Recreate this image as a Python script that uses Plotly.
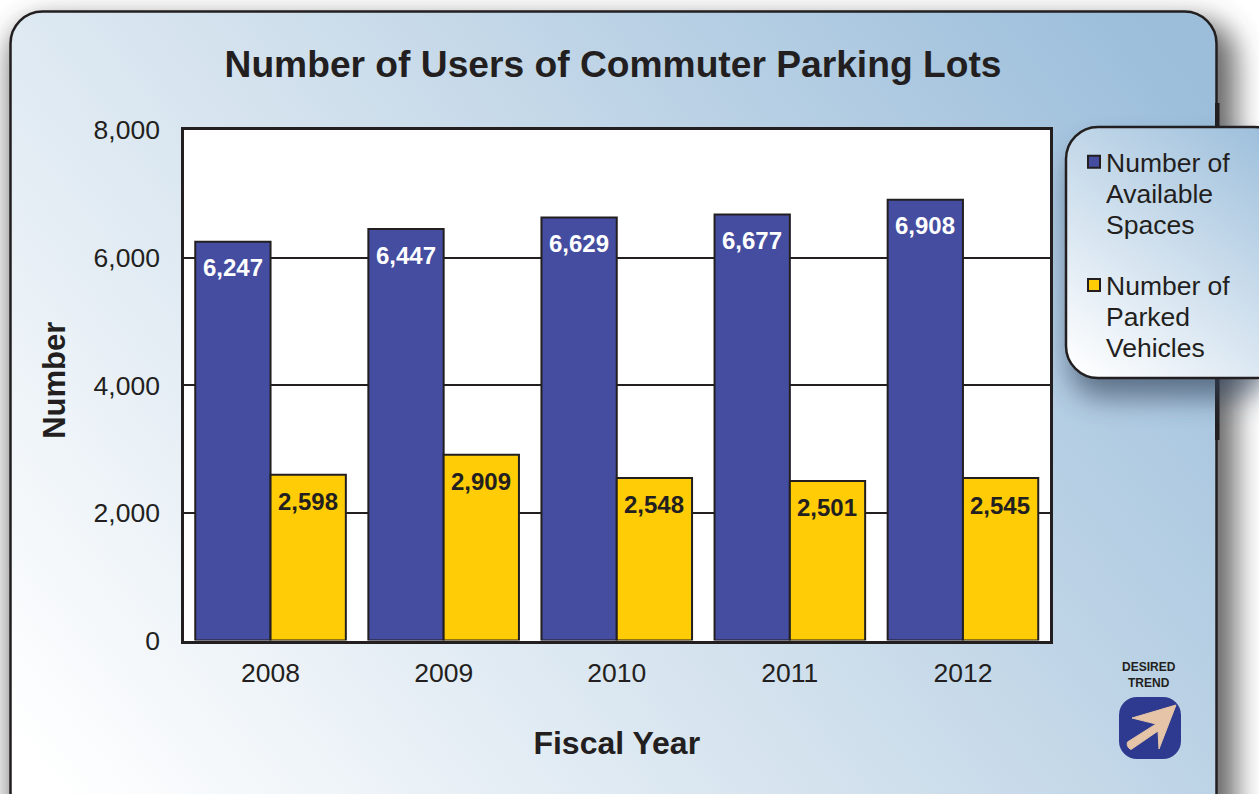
import base64
import plotly.graph_objects as go

years = ["2008", "2009", "2010", "2011", "2012"]
spaces = [6247, 6447, 6629, 6677, 6908]
parked = [2598, 2909, 2548, 2501, 2545]
W, H = 1259, 794
FONT = "Liberation Sans, Arial, sans-serif"
INK = "#231f20"

svg = f'''<svg xmlns="http://www.w3.org/2000/svg" width="{W}" height="{H}" viewBox="0 0 {W} {H}">
<defs>
<linearGradient id="p" gradientUnits="userSpaceOnUse" x1="60" y1="800" x2="1090" y2="-40">
<stop offset="0" stop-color="#ffffff"/><stop offset="0.5" stop-color="#cfdfec"/><stop offset="1" stop-color="#9cbedb"/></linearGradient>
<linearGradient id="l" gradientUnits="userSpaceOnUse" x1="1075" y1="375" x2="1255" y2="130">
<stop offset="0" stop-color="#ffffff"/><stop offset="1" stop-color="#9fc0dc"/></linearGradient>
<filter id="s" x="-20%" y="-20%" width="140%" height="140%"><feGaussianBlur stdDeviation="14"/></filter>
</defs>
<rect width="{W}" height="{H}" fill="#ffffff"/>
<rect x="10" y="20" width="1226" height="840" rx="38" fill="#444" opacity="0.8" filter="url(#s)"/>
<rect x="10.5" y="11.5" width="1206" height="830" rx="32" fill="url(#p)" stroke="{INK}" stroke-width="2.5"/>
<rect x="1215" y="103" width="4.5" height="337" fill="{INK}"/>
<rect x="1070" y="146" width="200" height="252" rx="32" fill="#33435a" opacity="0.65" filter="url(#s)"/>
<rect x="1066" y="127" width="220" height="251" rx="32" fill="url(#l)" stroke="{INK}" stroke-width="2.5"/>
<rect x="183" y="129" width="867" height="512" fill="#ffffff"/>
<rect x="1119" y="697" width="62" height="62" rx="18" fill="#2e3a8f"/>
<path d="M1176 705 L1132 718 L1156 724 L1127.5 742 Q1126 747 1131 749.5 L1158 731 L1159 749 Z" fill="#e5c4a8" stroke="#e5c4a8" stroke-width="1" stroke-linejoin="round"/>
</svg>'''
bg = "data:image/svg+xml;base64," + base64.b64encode(svg.encode()).decode()

fig = go.Figure()
fig.add_bar(x=years, y=spaces, name="Number of<br>Available<br>Spaces", legendgroup="a",
            marker=dict(color="#444da0", line=dict(color=INK, width=2)))
fig.add_bar(x=years, y=parked, name="Number of<br>Parked<br>Vehicles", legendgroup="b",
            marker=dict(color="#ffcc05", line=dict(color=INK, width=2)))

for i, y in enumerate(years):
    fig.add_annotation(x=i, y=spaces[i], text=f"<b>{spaces[i]:,}</b>", showarrow=False, xshift=-38, yshift=-26,
                       font=dict(family=FONT, size=24, color="#ffffff"))
    fig.add_annotation(x=i, y=parked[i], text=f"<b>{parked[i]:,}</b>", showarrow=False, xshift=37, yshift=-27,
                       font=dict(family=FONT, size=24, color=INK))

fig.add_annotation(xref="paper", yref="paper", x=1149/W, y=1-675/H, xanchor="center", yanchor="middle",
                   text="<b>DESIRED<br>TREND</b>", showarrow=False,
                   font=dict(family=FONT, size=12, color=INK))

fig.update_layout(
    width=W, height=H, margin=dict(l=0, r=0, t=0, b=0, pad=0), autosize=False,
    paper_bgcolor="rgba(0,0,0,0)", plot_bgcolor="#ffffff",
    barmode="group", bargap=0.13, bargroupgap=0,
    font=dict(family=FONT, size=26, color=INK),
    title=dict(text="<b>Number of Users of Commuter Parking Lots</b>", font=dict(family=FONT, size=37.2, color=INK),
               automargin=False, x=613/W, xanchor="center", y=1-64/H, yanchor="middle"),
    images=[dict(source=bg, xref="paper", yref="paper", x=0, y=1, sizex=1, sizey=1, sizing="stretch",
                 xanchor="left", yanchor="top", layer="below")],
    legend=dict(x=1066/W, y=1-138/H, xanchor="left", yanchor="top", bgcolor="rgba(0,0,0,0)", valign="top",
                font=dict(family=FONT, size=26.5, color=INK), tracegroupgap=17, traceorder="grouped",
                itemclick=False, itemdoubleclick=False),
    xaxis=dict(domain=[184/W, 1049.5/W], anchor="y", type="category", automargin=False,
               showline=True, mirror=True, linecolor=INK, linewidth=2.5,
               ticks="", tickfont=dict(size=26.5), ticklabelstandoff=7,
               title=dict(text="<b>Fiscal Year</b>", font=dict(size=32, color=INK), standoff=45)),
    yaxis=dict(domain=[1-640.5/H, 1-130/H], anchor="x", range=[0, 8000], tickvals=[0, 2000, 4000, 6000, 8000],
               automargin=False, tickformat=",d", showline=True, mirror=True, linecolor=INK, linewidth=2.5,
               gridcolor=INK, gridwidth=1.7, ticks="", tickfont=dict(size=26.5), zeroline=False, ticklabelstandoff=16,
               title=dict(text="<b>Number</b>", font=dict(size=31, color=INK), standoff=19)),
)
post = """
document.body.style.margin='0';document.body.style.overflow='hidden';
document.querySelectorAll('.legend .traces').forEach(function(g){
  var sym=g.querySelector('.legendsymbols'); if(sym){sym.setAttribute('transform','translate(8,0)');}
  var ls=g.querySelectorAll('.legendtext tspan.line'); if(!ls.length)return;
  var y0=parseFloat(ls[0].getAttribute('y'))||0;
  ls.forEach(function(t,i){t.removeAttribute('dy');t.setAttribute('y',y0+i*31);});
});
var yt=document.querySelector('.g-ytitle'); if(yt){yt.setAttribute('transform','translate(0,-5)');}
"""
fig.write_html("out.html", config={"displayModeBar": False}, post_script=post)
